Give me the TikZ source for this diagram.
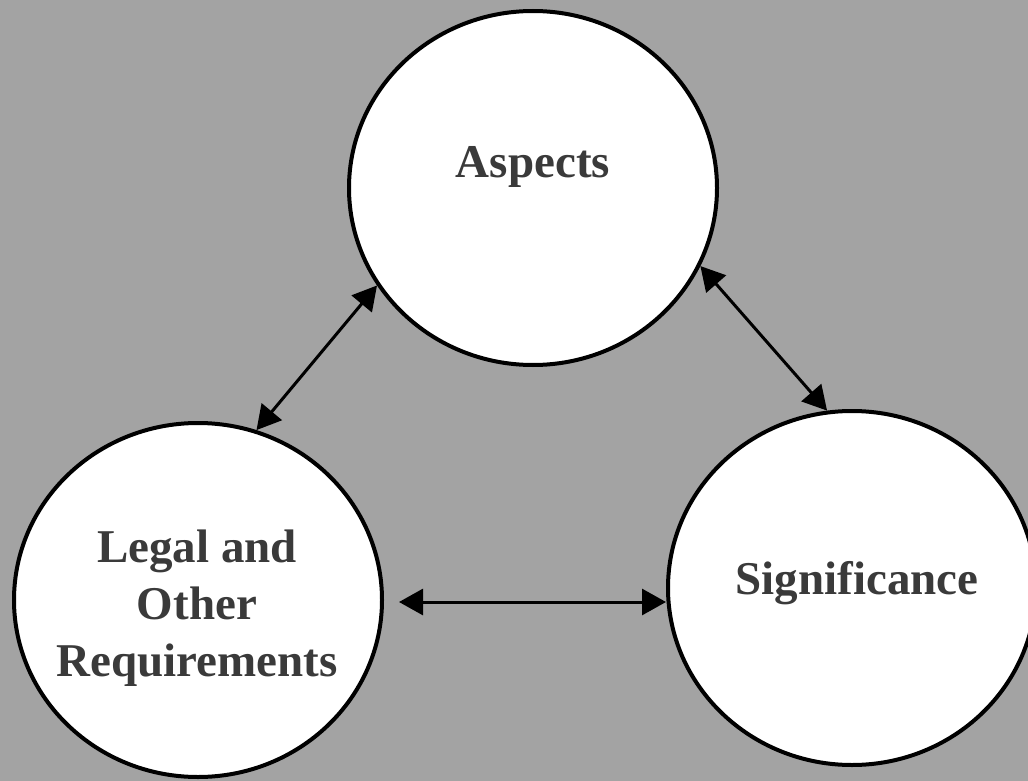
\documentclass[tikz,border=0pt]{standalone}
\usepackage{fontspec}
\setmainfont{Liberation Serif}
\usetikzlibrary{shapes.geometric,arrows.meta}
\definecolor{bggray}{HTML}{A3A3A3}
\definecolor{txtgray}{HTML}{3A3A3A}
\tikzset{
  bubble/.style={ellipse, draw=black, line width=4pt, fill=white, inner sep=0pt,
    minimum width=368pt, minimum height=354pt},
  label/.style={font=\fontsize{47}{57}\selectfont\bfseries, text=txtgray, inner sep=0pt, align=center},
  link/.style={line width=3pt, draw=black, {Triangle[length=24pt,width=26pt]}-{Triangle[length=24pt,width=26pt]}}
}
\begin{document}
\begin{tikzpicture}[x=1pt,y=-1pt]
\fill[bggray] (0,0) rectangle (1028,781);
\useasboundingbox (0,0) rectangle (1028,781);
\node[bubble] (A) at (533,188) {};
\node[bubble] (L) at (198,600) {};
\node[bubble] (S) at (852,588) {};
\node[label, anchor=base] (Atxt) at (533,178) {Aspects};
\node[label, anchor=base] (Stxt) at (857,594) {Significance};
\node[label] (Ltxt) at (197,608) {Legal and\\Other\\Requirements};
\draw[link] (A.212) -- (L.71);
\draw[link] (A.335) -- (S.98);
\draw[link, shorten <=15pt] (L.east |- 0,602) -- (S.west |- 0,602);
\end{tikzpicture}
\end{document}
